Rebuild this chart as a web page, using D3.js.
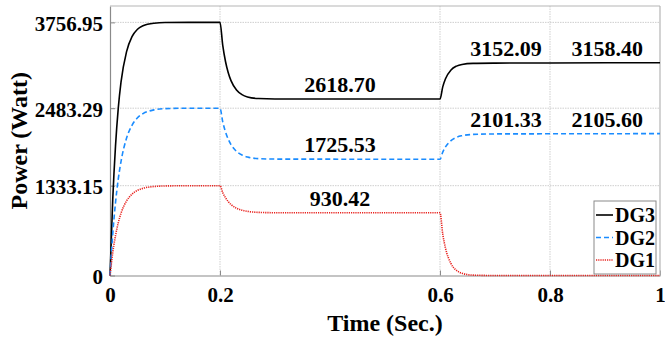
<!DOCTYPE html>
<html>
<head>
<meta charset="utf-8">
<script src="https://cdn.jsdelivr.net/npm/d3@7"></script>
<style>
  html, body { margin: 0; padding: 0; background: #fff; }
  svg { display: block; }
  text { font-weight: bold; fill: #000; }
</style>
</head>
<body>
<svg id="chart" width="665" height="341"></svg>
<script>
// Time samples (s) for each generator's output power trace
const timeDG3 = [0, 0.005, 0.01, 0.015, 0.02, 0.03, 0.04, 0.05, 0.06, 0.08, 0.1, 0.2,
  0.205, 0.21, 0.215, 0.22, 0.23, 0.24, 0.25, 0.27, 0.3, 0.6,
  0.605, 0.61, 0.62, 0.63, 0.64, 0.66, 0.7, 0.8, 1.0];
const powerDG3 = [0, 1130, 1920, 2480, 2870, 3320, 3545, 3655, 3706, 3745, 3755, 3756.95,
  3415, 3176, 3009, 2892, 2753, 2684, 2650, 2626, 2620, 2618.70,
  2800, 2920, 3051, 3108, 3133, 3148, 3152.09, 3155, 3158.40];

const timeDG2 = [0, 0.005, 0.01, 0.015, 0.02, 0.03, 0.04, 0.05, 0.06, 0.08, 0.1, 0.13, 0.2,
  0.205, 0.21, 0.215, 0.22, 0.23, 0.24, 0.25, 0.27, 0.3, 0.6,
  0.605, 0.61, 0.62, 0.63, 0.64, 0.66, 0.7, 0.8, 1.0];
const powerDG2 = [0, 618, 1080, 1430, 1691, 2036, 2230, 2341, 2403, 2458, 2476, 2482, 2483.29,
  2280, 2131, 2023, 1943, 1842, 1788, 1759, 1735, 1728, 1725.53,
  1832, 1908, 2002, 2051, 2075, 2094, 2101.33, 2103, 2105.60];

const timeDG1 = [0, 0.005, 0.01, 0.015, 0.02, 0.03, 0.04, 0.05, 0.06, 0.08, 0.1, 0.13, 0.2,
  0.205, 0.21, 0.215, 0.22, 0.23, 0.24, 0.25, 0.27, 0.3, 0.6,
  0.605, 0.61, 0.62, 0.63, 0.64, 0.66, 0.7, 1.0];
const powerDG1 = [0, 340, 593, 781, 923, 1105, 1207, 1263, 1294, 1321, 1329, 1332, 1333.15,
  1230, 1154, 1097, 1054, 999, 969, 952, 937, 932, 930.42,
  613, 405, 176, 76, 33, 6, 0, 0];

// Axis ticks
const xTicks = [0, 0.2, 0.6, 0.8, 1];
const xTickLabels = ["0", "0.2", "0.6", "0.8", "1"];
const yTicks = [0, 1333.15, 2483.29, 3756.95];
const yTickLabels = ["0", "1333.15", "2483.29", "3756.95"];

// Steady-state annotations: time position and the stated value
const noteTimes = [0.418, 0.418, 0.418, 0.72, 0.72, 0.904, 0.904];
const noteValues = [2618.70, 1725.53, 930.42, 3152.09, 2101.33, 3158.40, 2105.60];

// Series styling and legend order
const seriesNames = ["DG3", "DG2", "DG1"];
const seriesColors = ["#000000", "#1a8cff", "#e8231f"];
const seriesDash = [null, "5,3", "1.2,1"];

// Pick a Times-metric serif face (digits are half an em wide); otherwise
// fall back to a generic serif and narrow the glyphs to the same widths.
const ctx = document.createElement("canvas").getContext("2d");
function digitWidth(family) {
  ctx.font = `bold 100px ${family}`;
  return ctx.measureText("0123456789").width;
}
const candidates = ["'Liberation Serif'", "'Times New Roman'", "Tinos", "'Nimbus Roman'",
  "'Nimbus Roman No9 L'", "FreeSerif", "Times", "serif"];
let serifFamily = null;
for (const c of candidates) {
  const w = digitWidth(`${c}, monospace`);
  if (Math.abs(w - 500) < 15) { serifFamily = c; break; }
}
let squeeze = 1;
if (!serifFamily) {
  serifFamily = "'DejaVu Serif', serif";
  squeeze = 500 / digitWidth(serifFamily);
}
const fontStack = `${serifFamily}, serif`;

const svg = d3.select("#chart");
const plot = { left: 110, right: 660, top: 6, bottom: 275.5 };

const x = d3.scaleLinear().domain([0, 1]).range([plot.left, plot.right]);
const y = d3.scaleLinear().domain([0, 4000]).range([plot.bottom, plot.top]);

// Grid
const grid = svg.append("g");
grid.selectAll("line.vg").data(xTicks.filter(t => t > 0 && t < 1)).enter().append("line")
  .attr("x1", d => x(d)).attr("x2", d => x(d))
  .attr("y1", plot.top).attr("y2", plot.bottom)
  .attr("stroke", "#cfcfcf").attr("stroke-width", 1).attr("stroke-dasharray", "1.5,1");
grid.selectAll("line.hg").data(yTicks.filter(t => t > 0)).enter().append("line")
  .attr("x1", plot.left).attr("x2", plot.right)
  .attr("y1", d => y(d)).attr("y2", d => y(d))
  .attr("stroke", "#cfcfcf").attr("stroke-width", 1).attr("stroke-dasharray", "1.5,1");

// Axes with inward ticks
const xAxis = d3.axisBottom(x).tickValues(xTicks).tickSizeInner(-5).tickSizeOuter(0)
  .tickFormat((d, i) => xTickLabels[i]);
const gx = svg.append("g").attr("transform", `translate(0,${plot.bottom})`).call(xAxis)
  .attr("font-family", null).attr("font-size", null);
gx.select(".domain").attr("stroke", "#8a8a8a").attr("stroke-width", 1.2);
gx.selectAll(".tick line").attr("stroke", "#8a8a8a");
gx.selectAll(".tick text").attr("font-size", 21)
  .attr("dy", null).attr("y", 26.5);

const yAxis = d3.axisLeft(y).tickValues(yTicks).tickSizeInner(-5).tickSizeOuter(0)
  .tickFormat((d, i) => yTickLabels[i]);
const gy = svg.append("g").attr("transform", `translate(${plot.left},0)`).call(yAxis)
  .attr("font-family", null).attr("font-size", null);
gy.select(".domain").attr("stroke", "#8a8a8a").attr("stroke-width", 1.2);
gy.selectAll(".tick line").attr("stroke", "#8a8a8a");
gy.selectAll(".tick text").attr("font-size", 21)
  .attr("dy", null).attr("y", 8).attr("x", -7);

// Top and right frame
svg.append("line").attr("x1", plot.left).attr("x2", plot.right).attr("y1", plot.top).attr("y2", plot.top)
  .attr("stroke", "#b5b5b5").attr("stroke-width", 1.2);
svg.append("line").attr("x1", plot.right).attr("x2", plot.right).attr("y1", plot.top).attr("y2", plot.bottom)
  .attr("stroke", "#b5b5b5").attr("stroke-width", 1.2);

// Power traces
const line = d3.line().x(d => x(d[0])).y(d => y(d[1])).curve(d3.curveMonotoneX);
const traces = [
  d3.zip(timeDG3, powerDG3),
  d3.zip(timeDG2, powerDG2),
  d3.zip(timeDG1, powerDG1)
];
traces.forEach((pts, i) => {
  const p = svg.append("path").datum(pts)
    .attr("d", line).attr("fill", "none")
    .attr("stroke", seriesColors[i]).attr("stroke-width", 1.6);
  if (seriesDash[i]) p.attr("stroke-dasharray", seriesDash[i]);
});

// Value annotations above the steady-state levels
svg.selectAll("text.note").data(d3.zip(noteTimes, noteValues)).enter().append("text")
  .attr("class", "note")
  .attr("x", d => x(d[0])).attr("y", d => y(d[1]) - 7)
  .attr("text-anchor", "middle").attr("font-size", 22)
  .text(d => d[1].toFixed(2));

// Axis titles
svg.append("text").attr("x", (plot.left + plot.right) / 2).attr("y", 331)
  .attr("text-anchor", "middle").attr("font-size", 24).text("Time (Sec.)");
svg.append("text").attr("transform", `translate(27,${(plot.top + plot.bottom) / 2}) rotate(-90)`)
  .attr("text-anchor", "middle").attr("font-size", 24).text("Power (Watt)");

// Legend
const lg = svg.append("g");
lg.append("rect").attr("x", 594).attr("y", 201).attr("width", 62).attr("height", 73)
  .attr("fill", "#fff").attr("stroke", "#8a8a8a").attr("stroke-width", 1);
seriesNames.forEach((name, i) => {
  const cy = 215 + i * 22.5;
  const l = lg.append("line").attr("x1", 596).attr("x2", 613).attr("y1", cy).attr("y2", cy)
    .attr("stroke", seriesColors[i]).attr("stroke-width", 1.6);
  if (seriesDash[i]) l.attr("stroke-dasharray", seriesDash[i]);
  lg.append("text").attr("x", 615).attr("y", cy + 7).attr("font-size", 20).text(name);
});

// Apply the serif face everywhere, narrowing glyphs if a substitute face is in use
svg.selectAll("text").style("font-family", fontStack).style("font-weight", "bold").each(function () {
  if (squeeze < 0.99) {
    const w = this.getComputedTextLength();
    d3.select(this).attr("textLength", w * squeeze).attr("lengthAdjust", "spacingAndGlyphs");
  }
});
</script>
</body>
</html>
